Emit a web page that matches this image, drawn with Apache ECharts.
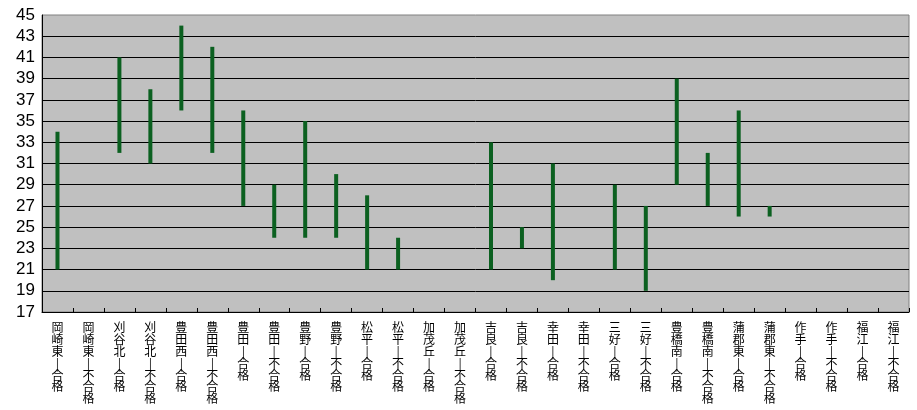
<!DOCTYPE html>
<html><head><meta charset="utf-8">
<script src="https://cdn.jsdelivr.net/npm/echarts@6/dist/echarts.min.js"></script>
<style>html,body{margin:0;padding:0;background:#fff}#c{width:917px;height:410px}</style>
</head><body><div id="c"></div>
<script>
const categories = ['岡崎東-合格','岡崎東-不合格','刈谷北-合格','刈谷北-不合格','豊田西-合格','豊田西-不合格','豊田-合格','豊田-不合格','豊野-合格','豊野-不合格','松平-合格','松平-不合格','加茂丘-合格','加茂丘-不合格','吉良-合格','吉良-不合格','幸田-合格','幸田-不合格','三好-合格','三好-不合格','豊橋南-合格','豊橋南-不合格','蒲郡東-合格','蒲郡東-不合格','作手-合格','作手-不合格','福江-合格','福江-不合格'];
const lows  = [21,null,32,31,36,32,27,24,24,24,21,21,null,null,21,23,20,null,21,19,29,27,26,26,null,null,null,null];
const highs = [34,null,41,38,44,42,36,29,35,30,28,24,null,null,33,25,31,null,29,27,39,32,36,27,null,null,null,null];
const yTicks = [17,19,21,23,25,27,29,31,33,35,37,39,41,43,45];

const data = categories.map((c,i)=> lows[i]==null ? [i,'-','-'] : [i,lows[i],highs[i]]);
const chart = echarts.init(document.getElementById('c'), null, {renderer:'canvas'});
chart.setOption({
  animation:false,
  grid:{left:42,right:8,top:15,bottom:98,show:true,backgroundColor:'#c0c0c0',borderColor:'#808080',borderWidth:1},
  xAxis:{type:'category',data:categories,boundaryGap:true,
    axisLine:{lineStyle:{color:'#000',width:1}},
    axisTick:{show:true,inside:true,length:4,lineStyle:{color:'#000'}},
    axisLabel:{interval:0,margin:10,fontFamily:'Noto Sans CJK JP',fontSize:12,lineHeight:11.8,color:'#000',verticalAlign:'top',
      formatter:v=>v.split('').map(ch=>ch==='-'?'|':ch).join('\n')},
    splitLine:{show:false}},
  yAxis:{type:'value',min:yTicks[0],max:yTicks[yTicks.length-1],interval:2,
    axisLine:{show:true,lineStyle:{color:'#000'}},
    axisTick:{show:false},
    axisLabel:{fontFamily:'Liberation Sans',fontSize:17,color:'#000',margin:7},
    splitLine:{show:true,showMaxLine:false,lineStyle:{color:'#000',width:1}}},
  series:[{type:'custom',data:data,encode:{x:0,y:[1,2]},
    renderItem:(params,api)=>{
      const lo=api.value(1), hi=api.value(2);
      if(isNaN(lo)||isNaN(hi)) return null;
      const p1=api.coord([api.value(0),lo]);
      const p2=api.coord([api.value(0),hi]);
      return {type:'rect',shape:{x:p1[0]-2,y:p2[1],width:4,height:p1[1]-p2[1]},style:{fill:'#0b6020'}};
    }}]
});
</script></body></html>
